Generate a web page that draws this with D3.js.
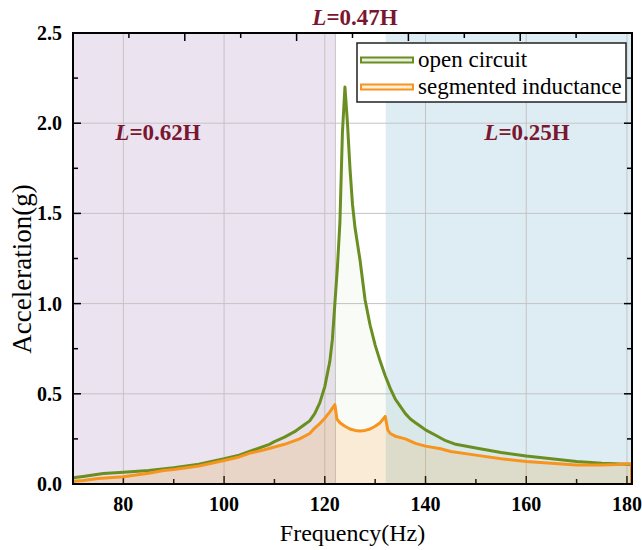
<!DOCTYPE html>
<html>
<head>
<meta charset="utf-8">
<script src="https://cdn.jsdelivr.net/npm/d3@7"></script>
<style>
  body { margin: 0; background: #fff; }
</style>
</head>
<body>
<svg id="chart" width="642" height="550" font-family="'Liberation Serif', 'Times New Roman', Times, serif"></svg>
<script>
// open circuit (frequency Hz, acceleration g)
const freqOpen = [70, 72, 74, 76, 80, 85, 90, 95, 100, 103, 106, 109, 110, 112, 114, 116, 117, 118, 119, 120,
  121, 121.5, 122, 122.5, 123, 123.5, 124, 124.5, 125, 125.5, 126, 127, 128, 129, 130, 131, 132, 133, 134, 135,
  136, 137, 138, 139, 140, 142, 144, 146, 150, 155, 160, 165, 170, 175, 180, 181];
const accOpen = [0.035, 0.042, 0.05, 0.058, 0.065, 0.075, 0.09, 0.11, 0.14, 0.16, 0.19, 0.22, 0.235, 0.26, 0.29, 0.33, 0.35, 0.39, 0.45, 0.54,
  0.68, 0.80, 1.0, 1.2, 1.45, 1.95, 2.2, 2.0, 1.75, 1.55, 1.42, 1.24, 1.02, 0.88, 0.77, 0.68, 0.60, 0.53, 0.47, 0.43,
  0.39, 0.36, 0.34, 0.32, 0.30, 0.27, 0.24, 0.22, 0.20, 0.175, 0.155, 0.14, 0.125, 0.115, 0.11, 0.108];

// segmented inductance
const freqSeg = [70, 72, 75, 80, 85, 88, 90, 95, 100, 103, 105, 108, 110, 112, 115, 117, 118, 119, 120, 121,
  122, 122.4, 123, 124, 125, 126, 127, 128, 129, 130, 131, 132, 132.5, 133, 134, 136, 138, 140, 143, 145,
  150, 155, 160, 165, 170, 175, 178, 180, 181];
const accSeg = [0.015, 0.02, 0.03, 0.04, 0.06, 0.075, 0.08, 0.1, 0.13, 0.15, 0.17, 0.19, 0.205, 0.22, 0.25, 0.28, 0.31, 0.335, 0.365, 0.40,
  0.44, 0.36, 0.34, 0.32, 0.305, 0.297, 0.294, 0.297, 0.305, 0.32, 0.34, 0.375, 0.30, 0.28, 0.265, 0.25, 0.225, 0.21, 0.195, 0.18,
  0.16, 0.14, 0.125, 0.115, 0.105, 0.105, 0.108, 0.112, 0.112];

// inductance bands
const bandStart = [70, 122.1, 132.1];
const bandEnd = [122.1, 132.1, 181];
const bandLabel = ["0.62H", "0.47H", "0.25H"];

const xTicks = [80, 100, 120, 140, 160, 180];
const yTicks = [0.0, 0.5, 1.0, 1.5, 2.0, 2.5];
const seriesNames = ["open circuit", "segmented inductance"];

const svg = d3.select("#chart");
const margin = { top: 33, right: 10, bottom: 66, left: 73 };
const W = 642 - margin.left - margin.right;
const H = 550 - margin.top - margin.bottom;
const g = svg.append("g").attr("transform", `translate(${margin.left},${margin.top})`);

const x = d3.scaleLinear().domain([70, 181]).range([0, W]);
const y = d3.scaleLinear().domain([0, 2.5]).range([H, 0]);
const xTop = d3.scaleLinear().domain([0, 100]).range([0, W]);

const green = "#6b8e23";
const orange = "#f7941d";
const bandColor = ["#ebe4f0", "#ffffff", "#deedf3"];
const labelColor = "#7a1630";

//bands
bandStart.forEach((s, i) => {
  g.append("rect")
    .attr("x", x(s)).attr("y", 0)
    .attr("width", x(bandEnd[i]) - x(s)).attr("height", H)
    .attr("fill", bandColor[i]);
});

//grid
xTicks.forEach(t => {
  g.append("line").attr("x1", x(t)).attr("x2", x(t)).attr("y1", 0).attr("y2", H)
    .attr("stroke", "#c4c4c4").attr("stroke-width", 1);
});
[0.5, 1.0, 1.5, 2.0].forEach(t => {
  g.append("line").attr("x1", 0).attr("x2", W).attr("y1", y(t)).attr("y2", y(t))
    .attr("stroke", "#c4c4c4").attr("stroke-width", 1);
});
// edge line at the left of the middle band
g.append("line").attr("x1", x(bandStart[1])).attr("x2", x(bandStart[1])).attr("y1", 0).attr("y2", H)
  .attr("stroke", "#c4c4c4").attr("stroke-width", 1);

//ticks (inward), drawn below the fills
const tickG = g.append("g").attr("stroke", "#000").attr("stroke-width", 1.5);
d3.range(70, 182, 10).forEach(t => {
  const len = (t % 20 === 0) ? 8 : 5;
  tickG.append("line").attr("x1", x(t)).attr("x2", x(t)).attr("y1", H).attr("y2", H - len);
});
d3.range(10, 100, 10).forEach(t => {
  const len = (t % 20 === 0) ? 8 : 5;
  tickG.append("line").attr("x1", xTop(t)).attr("x2", xTop(t)).attr("y1", 0).attr("y2", len);
});
d3.range(0.25, 2.5, 0.25).forEach(t => {
  const major = Math.abs(t * 2 - Math.round(t * 2)) < 1e-6;
  const len = major ? 8 : 5;
  tickG.append("line").attr("x1", 0).attr("x2", len).attr("y1", y(t)).attr("y2", y(t));
  tickG.append("line").attr("x1", W).attr("x2", W - len).attr("y1", y(t)).attr("y2", y(t));
});

//areas and lines
const openData = freqOpen.map((f, i) => ({ f, a: accOpen[i] }));
const segData = freqSeg.map((f, i) => ({ f, a: accSeg[i] }));

const area = d3.area().x(d => x(d.f)).y0(y(0)).y1(d => y(d.a));
const line = d3.line().x(d => x(d.f)).y(d => y(d.a));

g.append("path").datum(openData).attr("d", area).attr("fill", green).attr("fill-opacity", 0.04);
g.append("path").datum(segData).attr("d", area).attr("fill", orange).attr("fill-opacity", 0.15);

g.append("path").datum(openData).attr("d", line)
  .attr("fill", "none").attr("stroke", green).attr("stroke-width", 3).attr("stroke-linejoin", "round");
g.append("path").datum(segData).attr("d", line)
  .attr("fill", "none").attr("stroke", orange).attr("stroke-width", 3).attr("stroke-linejoin", "round");
// closing edge of the orange area at the right
const lastSeg = segData[segData.length - 1];
g.append("line").attr("x1", x(lastSeg.f) - 1).attr("x2", x(lastSeg.f) - 1)
  .attr("y1", y(lastSeg.a)).attr("y2", y(0))
  .attr("stroke", orange).attr("stroke-width", 2);

//frame
g.append("rect").attr("x", 0).attr("y", 0).attr("width", W).attr("height", H)
  .attr("fill", "none").attr("stroke", "#000").attr("stroke-width", 2);

//tick labels
xTicks.forEach(t => {
  g.append("text").attr("x", x(t)).attr("y", H + 27)
    .attr("text-anchor", "middle").attr("font-weight", "bold").attr("font-size", 20)
    .text(t);
});
yTicks.forEach(t => {
  g.append("text").attr("x", -11).attr("y", y(t) + 7)
    .attr("text-anchor", "end").attr("font-weight", "bold").attr("font-size", 20)
    .text(d3.format(".1f")(t));
});

//axis titles
svg.append("text").attr("x", margin.left + W / 2).attr("y", 541)
  .attr("text-anchor", "middle").attr("font-size", 24).text("Frequency(Hz)");
svg.append("text").attr("transform", "translate(31,269) rotate(-90)")
  .attr("text-anchor", "middle").attr("font-size", 27).text("Acceleration(g)");

//band labels
const labelPos = [[158, 140], [355, 25], [527, 140]];
bandLabel.forEach((lbl, i) => {
  const t = svg.append("text").attr("x", labelPos[i][0]).attr("y", labelPos[i][1])
    .attr("text-anchor", "middle").attr("font-size", 23).attr("font-weight", "bold")
    .attr("fill", labelColor);
  t.append("tspan").attr("font-style", "italic").text("L");
  t.append("tspan").text("=" + lbl);
});

//legend
const leg = svg.append("g").attr("transform", "translate(357,43)");
leg.append("rect").attr("width", 269).attr("height", 59)
  .attr("fill", "#fff").attr("stroke", "#222").attr("stroke-width", 1.5);
[green, orange].forEach((c, i) => {
  const cy = 17 + i * 27;
  leg.append("rect").attr("x", 4).attr("y", cy - 2.5).attr("width", 52).attr("height", 5)
    .attr("fill", c).attr("fill-opacity", 0.15).attr("stroke", c).attr("stroke-width", 2);
  leg.append("text").attr("x", 61).attr("y", cy + 7).attr("font-size", 23).text(seriesNames[i]);
});
</script>
</body>
</html>
